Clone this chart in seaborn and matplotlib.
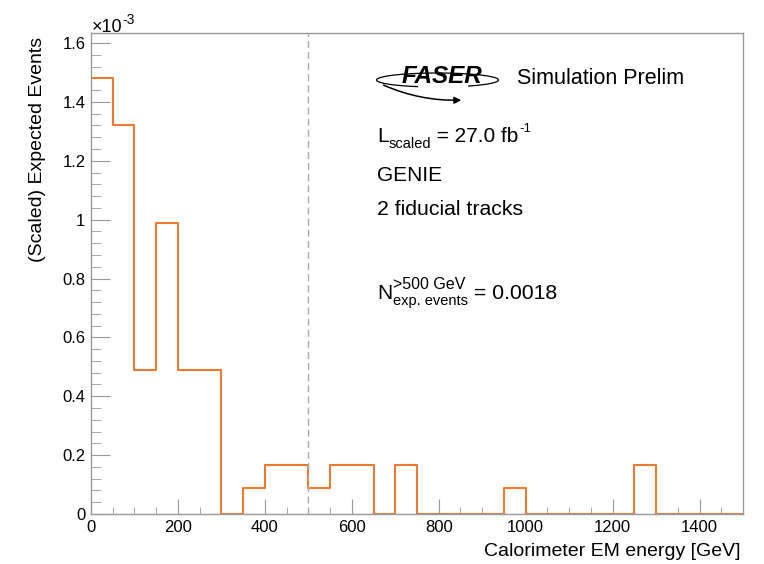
import numpy as np
import pandas as pd
import matplotlib
matplotlib.use("Agg")
import matplotlib.pyplot as plt
import seaborn as sns
from matplotlib.patches import Arc, FancyArrowPatch
from matplotlib.ticker import MultipleLocator, FuncFormatter

# Histogram content (units of 1e-3), 50 GeV bins from 0 to 1500 GeV
bin_edges = list(range(0, 1550, 50))
events_e3 = [1.48, 1.32, 0.49, 0.99, 0.49, 0.49, 0.0, 0.088, 0.165, 0.165,
             0.088, 0.165, 0.165, 0.0, 0.165, 0.0, 0.0, 0.0, 0.0, 0.088,
             0.0, 0.0, 0.0, 0.0, 0.0, 0.165, 0.0, 0.0, 0.0, 0.0]
cut_energy = 500
x_label = "Calorimeter EM energy [GeV]"
y_label = "(Scaled) Expected Events"

sns.set_style("ticks")
plt.rcParams["font.family"] = ["Liberation Sans", "DejaVu Sans"]
plt.rcParams["text.color"] = "black"
plt.rcParams["xtick.labelcolor"] = "black"
plt.rcParams["ytick.labelcolor"] = "black"

W, H = 764, 564
fig = plt.figure(figsize=(W / 100, H / 100), dpi=100)
ax = fig.add_axes([91 / W, 1 - 514 / H, (743 - 91) / W, (514 - 33) / H])

edges = np.array(bin_edges)
df = pd.DataFrame({"energy": (edges[:-1] + edges[1:]) / 2, "events": events_e3})
sns.histplot(data=df, x="energy", weights="events", bins=bin_edges, element="step",
             fill=False, color="#ea7b30", linewidth=1.5, ax=ax)

ax.axvline(cut_energy, color="#aaaaaa", linestyle=(0, (5, 3)), linewidth=1)

ax.set_xlim(0, 1500)
ax.set_ylim(0, 1.634)
ax.set_xlabel("")
ax.set_ylabel("")

gray = "#999999"
for s in ax.spines.values():
    s.set_color(gray)
    s.set_linewidth(1)

ax.xaxis.set_major_locator(MultipleLocator(200))
ax.xaxis.set_minor_locator(MultipleLocator(50))
ax.yaxis.set_major_locator(MultipleLocator(0.2))
ax.yaxis.set_minor_locator(MultipleLocator(0.04))
ax.yaxis.set_major_formatter(FuncFormatter(lambda v, p: f"{v:g}"))
ax.tick_params(axis="x", which="major", direction="in", length=10.5, color=gray,
               labelcolor="black", labelsize=12, pad=4)
ax.tick_params(axis="x", which="minor", direction="in", length=5.3, color=gray)
ax.tick_params(axis="y", which="major", direction="in", length=14, color=gray,
               labelcolor="black", labelsize=12, pad=4)
ax.tick_params(axis="y", which="minor", direction="in", length=7, color=gray)

renderer = fig.canvas.get_renderer()

def fx(x):
    return x / W

def fy(y):
    return 1 - y / H

def put(x, y, s, size, **kw):
    return fig.text(fx(x), fy(y), s, fontsize=size, ha="left", va="baseline", **kw)

def after(prev, y, s, size, gap=0.0):
    # place a text piece right after the previous one (ROOT-style sub/superscripts)
    x = prev.get_window_extent(renderer).x1 + gap
    return put(x, y, s, size)

# axis exponent and titles
t = put(92, 32, "\u00d710", 13)
after(t, 24, "-3", 10)
fig.text(fx(38), fy(37), y_label, fontsize=14, rotation=90, ha="center", va="top")
fig.text(fx(741), fy(551), x_label, fontsize=14, ha="right", va="center")

# FASER logo
fig.patches.append(Arc((fx(437.5), fy(80)), 122 / W, 14 / H, theta1=-15, theta2=205,
                       edgecolor="black", linewidth=0.9,
                       transform=fig.transFigure))
fig.text(fx(442), fy(83), "FASER", fontsize=17.5, fontweight="bold", style="italic",
         ha="center", va="baseline", zorder=5)
fig.patches.append(FancyArrowPatch((fx(381), fy(84)), (fx(464), fy(100)),
                                   connectionstyle="arc3,rad=0.12",
                                   arrowstyle="-|>,head_length=4,head_width=2",
                                   color="black", linewidth=1.1,
                                   transform=fig.transFigure))

put(517, 84, "Simulation Prelim", 15.5)

# luminosity line
t = put(377, 142, "L", 15)
t = after(t, 148, "scaled", 10.5)
t = after(t, 142, " = 27.0 fb", 15)
after(t, 132, "-1", 9.5, gap=1)

put(377, 181, "GENIE", 15)
put(377, 215, "2 fiducial tracks", 15.3)

# expected events line
t = put(377, 299, "N", 15)
sup = after(t, 289, ">500 GeV", 11.5, gap=1)
sub = after(t, 305, "exp. events", 10.5, gap=1)
right = max(sup.get_window_extent(renderer).x1, sub.get_window_extent(renderer).x1)
put(right, 299, " = 0.0018", 15.3)

fig.savefig("out.png", dpi=100)
